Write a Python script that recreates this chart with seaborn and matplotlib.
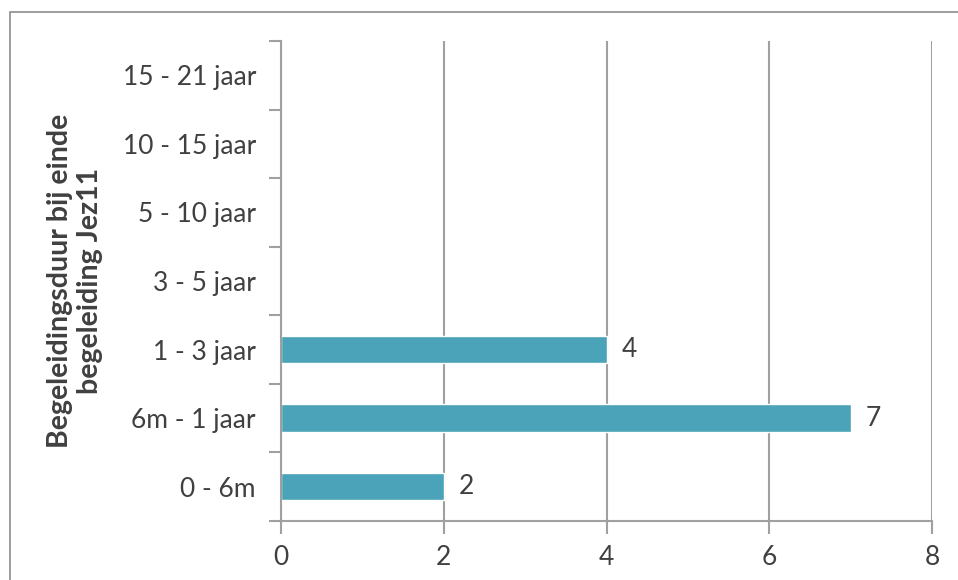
import matplotlib
matplotlib.use('Agg')
import matplotlib.pyplot as plt
from matplotlib.patches import Rectangle
import seaborn as sns
import pandas as pd

categories = ['15 - 21 jaar', '10 - 15 jaar', '5 - 10 jaar', '3 - 5 jaar',
              '1 - 3 jaar', '6m - 1 jaar', '0 - 6m']
counts = [0, 0, 0, 0, 4, 7, 2]
x_ticks = [0, 2, 4, 6, 8]
y_title = 'Begeleidingsduur bij einde\nbegeleiding Jez11'

bar_color = '#4AA3B8'
text_color = '#404040'
grid_color = '#A0A0A0'


def main():
    sns.set_style('white')
    plt.rcParams['font.family'] = ['Lato', 'DejaVu Sans']

    df = pd.DataFrame({'duur': categories, 'aantal': counts})

    fig = plt.figure(figsize=(9.58, 5.80), dpi=100)
    ax = fig.add_axes([0.2933, 0.1017, 0.6796, 0.8276])

    sns.barplot(data=df, x='aantal', y='duur', order=categories,
                color=bar_color, saturation=1, width=0.4, ax=ax, orient='h')

    ax.set_xlim(0, 8)
    ax.set_ylim(len(categories) - 0.5, -0.5)
    ax.set_xticks(x_ticks)
    ax.set_xticklabels([str(t) for t in x_ticks], fontsize=19, color=text_color)
    ax.xaxis.grid(True, color=grid_color, linewidth=1.5)
    ax.set_axisbelow(True)

    # category boundary ticks, Excel style
    ax.set_yticks([i - 0.5 for i in range(len(categories) + 1)], minor=True)
    ax.tick_params(axis='y', which='major', length=0, pad=18,
                   labelsize=19, labelcolor=text_color)
    ax.tick_params(axis='y', which='minor', length=9, width=1.5,
                   color=grid_color, direction='out', left=True)
    ax.tick_params(axis='x', length=9, width=1.5, color=grid_color,
                   direction='out', bottom=True, pad=8)

    for side in ['top', 'right']:
        ax.spines[side].set_visible(False)
    for side in ['left', 'bottom']:
        ax.spines[side].set_color(grid_color)
        ax.spines[side].set_linewidth(1.5)

    ax.set_xlabel('')
    ax.set_ylabel(y_title, fontsize=20.5, fontweight='bold', color=text_color,
                  labelpad=14, linespacing=1.2)

    for i, v in enumerate(counts):
        if v > 0:
            ax.annotate(str(v), (v, i), xytext=(11, 0), textcoords='offset points',
                        va='center', ha='left', fontsize=19, color=text_color)

    fig.patches.append(Rectangle((10 / 958, -0.01), 1.0, 1 - 12 / 580 + 0.01,
                                 transform=fig.transFigure, fill=False,
                                 edgecolor='#8C8C8C', linewidth=1.2))

    fig.savefig('out.png', dpi=100)


if __name__ == '__main__':
    main()
